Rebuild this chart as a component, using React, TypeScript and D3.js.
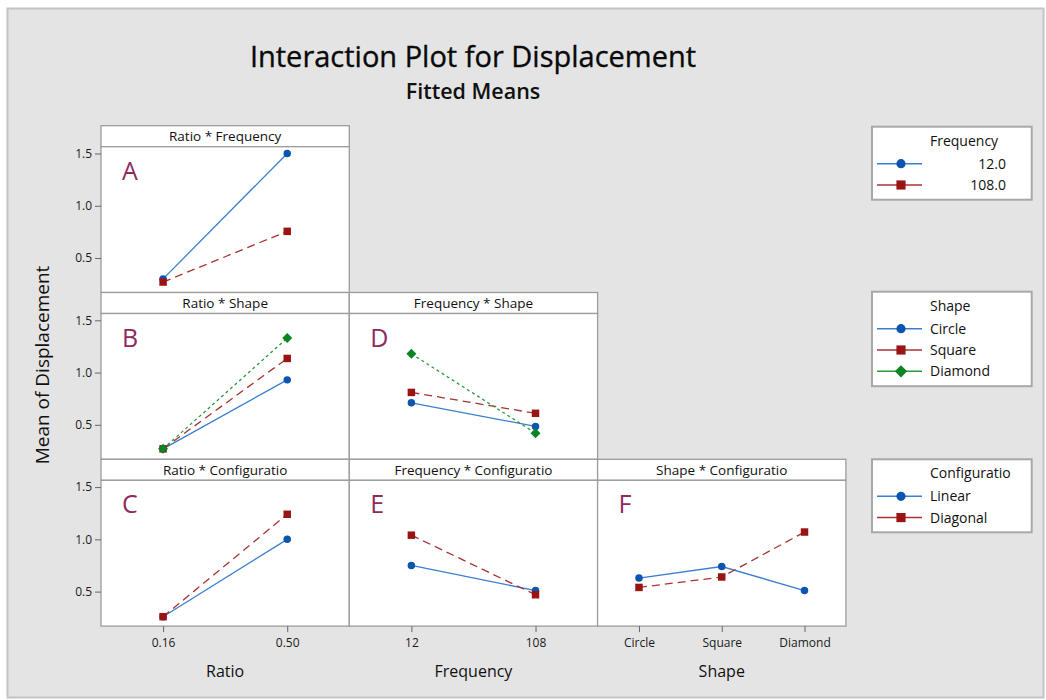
import React, { useEffect, useRef } from "react";
import * as d3 from "d3";

// factor levels
const ratioLevels = ["0.16", "0.50"];
const frequencyLevels = ["12", "108"];
const shapeLevels = ["Circle", "Square", "Diamond"];
const frequencyLegend = ["12.0", "108.0"];
const configLevels = ["Linear", "Diagonal"];
const yTicks = [0.5, 1.0, 1.5];

// fitted means
const ratioFreq12 = [0.3, 1.5];
const ratioFreq108 = [0.27, 0.755];
const ratioShapeCircle = [0.27, 0.93];
const ratioShapeSquare = [0.27, 1.135];
const ratioShapeDiamond = [0.27, 1.33];
const ratioConfigLinear = [0.26, 1.0];
const ratioConfigDiagonal = [0.26, 1.24];
const freqShapeCircle = [0.71, 0.485];
const freqShapeSquare = [0.81, 0.61];
const freqShapeDiamond = [1.18, 0.42];
const freqConfigLinear = [0.75, 0.51];
const freqConfigDiagonal = [1.04, 0.47];
const shapeConfigLinear = [0.63, 0.74, 0.51];
const shapeConfigDiagonal = [0.54, 0.64, 1.07];

const panels = [
  { row: 0, col: 0, title: "Ratio * Frequency", letter: "A", levels: ratioLevels, series: [ratioFreq12, ratioFreq108] },
  { row: 1, col: 0, title: "Ratio * Shape", letter: "B", levels: ratioLevels, series: [ratioShapeCircle, ratioShapeSquare, ratioShapeDiamond] },
  { row: 1, col: 1, title: "Frequency * Shape", letter: "D", levels: frequencyLevels, series: [freqShapeCircle, freqShapeSquare, freqShapeDiamond] },
  { row: 2, col: 0, title: "Ratio * Configuratio", letter: "C", levels: ratioLevels, series: [ratioConfigLinear, ratioConfigDiagonal] },
  { row: 2, col: 1, title: "Frequency * Configuratio", letter: "E", levels: frequencyLevels, series: [freqConfigLinear, freqConfigDiagonal] },
  { row: 2, col: 2, title: "Shape * Configuratio", letter: "F", levels: shapeLevels, series: [shapeConfigLinear, shapeConfigDiagonal] },
];

const legends = [
  { title: "Frequency", items: frequencyLegend, right: true },
  { title: "Shape", items: shapeLevels, right: false },
  { title: "Configuratio", items: configLevels, right: false },
];

const axisTitles = ["Ratio", "Frequency", "Shape"];
const axisLevels = [ratioLevels, frequencyLevels, shapeLevels];

// diamond = square turned by 45 degrees
const styles = [
  { line: "#3b7ecf", fill: "#0a55b0", dash: null, symbol: d3.symbolCircle, size: 44, rot: 0 },
  { line: "#a83232", fill: "#9a1414", dash: "8,5", symbol: d3.symbolSquare, size: 56, rot: 0 },
  { line: "#2a9a3a", fill: "#0a8424", dash: "3,3", symbol: d3.symbolSquare, size: 50, rot: 45 },
];

const FONT = "'Open Sans', 'DejaVu Sans', sans-serif";

const App = () => {
  const ref = useRef<SVGSVGElement>(null);

  useEffect(() => {
    const svg = d3.select(ref.current);
    svg.selectAll("*").remove();

    const width = 1046;
    const height = 700;
    const left = 101;
    const colW = 248.3;
    const top = 125.7;
    const rowH = 166.8;
    const headH = 21;

    svg.append("rect").attr("width", width).attr("height", height).attr("fill", "#ffffff");
    svg
      .append("rect")
      .attr("x", 7.5)
      .attr("y", 8.5)
      .attr("width", width - 10)
      .attr("height", height - 11)
      .attr("fill", "#e4e4e4")
      .attr("stroke", "#c4c4c4")
      .attr("stroke-width", 2);

    svg
      .append("text")
      .attr("x", 473)
      .attr("y", 67)
      .attr("text-anchor", "middle")
      .attr("font-family", FONT)
      .attr("font-size", 29)
      .attr("fill", "#0a0a0a")
      .attr("stroke", "#0a0a0a")
      .attr("stroke-width", 0.35)
      .text("Interaction Plot for Displacement");

    svg
      .append("text")
      .attr("x", 473)
      .attr("y", 99)
      .attr("text-anchor", "middle")
      .attr("font-family", FONT)
      .attr("font-size", 21.5)
      .attr("font-weight", 600)
      .attr("fill", "#111")
      .text("Fitted Means");

    const y = d3.scaleLinear().domain([0.17, 1.565]).range([rowH - headH, 0]);

    panels.forEach((p) => {
      const x0 = left + p.col * colW;
      const y0 = top + p.row * rowH;
      const g = svg.append("g").attr("transform", `translate(${x0},${y0})`);

      g.append("rect")
        .attr("width", colW)
        .attr("height", headH)
        .attr("fill", "#fff")
        .attr("stroke", "#9c9c9c")
        .attr("stroke-width", 1.3);
      g.append("text")
        .attr("x", colW / 2)
        .attr("y", headH / 2 + 5)
        .attr("text-anchor", "middle")
        .attr("font-family", FONT)
        .attr("font-size", 13.5)
        .attr("fill", "#111")
        .text(p.title);

      const plot = g.append("g").attr("transform", `translate(0,${headH})`);
      plot
        .append("rect")
        .attr("width", colW)
        .attr("height", rowH - headH)
        .attr("fill", "#fff")
        .attr("stroke", "#9c9c9c")
        .attr("stroke-width", 1.3);

      plot
        .append("text")
        .attr("x", 21)
        .attr("y", 33)
        .attr("font-family", FONT)
        .attr("font-size", 25)
        .attr("fill", "#8e2a5e")
        .text(p.letter);

      const x = d3.scalePoint<string>().domain(p.levels).range([0, colW]).padding(0.5);

      p.series.forEach((vals, si) => {
        const st = styles[si];
        const pts = vals.map((v, i) => [x(p.levels[i]) as number, y(v)] as [number, number]);
        plot
          .append("path")
          .attr("d", d3.line()(pts))
          .attr("fill", "none")
          .attr("stroke", st.line)
          .attr("stroke-width", 1.3)
          .attr("stroke-dasharray", st.dash);
        plot
          .selectAll(null)
          .data(pts)
          .join("path")
          .attr("transform", (d) => `translate(${d[0]},${d[1]}) rotate(${st.rot})`)
          .attr("d", d3.symbol().type(st.symbol).size(st.size)())
          .attr("fill", st.fill);
      });

      // y axis on the first column
      if (p.col === 0) {
        const ax = plot.append("g").call(d3.axisLeft(y).tickValues(yTicks).tickFormat(d3.format(".1f")).tickSize(6));
        ax.select(".domain").remove();
        ax.selectAll("line").attr("stroke", "#666");
        ax.selectAll("text").attr("font-family", FONT).attr("font-size", 12).attr("fill", "#1a1a1a");
      }
    });

    // x axes along the bottom row
    const bottom = top + 3 * rowH;
    axisLevels.forEach((lv, c) => {
      const x = d3.scalePoint<string>().domain(lv).range([0, colW]).padding(0.5);
      const g = svg.append("g").attr("transform", `translate(${left + c * colW},${bottom})`);
      const ax = g.call(d3.axisBottom(x).tickSize(6).tickPadding(6));
      ax.select(".domain").remove();
      ax.selectAll("line").attr("stroke", "#666");
      ax.selectAll("text").attr("font-family", FONT).attr("font-size", 12).attr("fill", "#1a1a1a");
      g.append("text")
        .attr("x", colW / 2)
        .attr("y", 51)
        .attr("text-anchor", "middle")
        .attr("font-family", FONT)
        .attr("font-size", 16)
        .attr("fill", "#111")
        .text(axisTitles[c]);
    });

    svg
      .append("text")
      .attr("transform", `translate(49,365) rotate(-90)`)
      .attr("text-anchor", "middle")
      .attr("font-family", FONT)
      .attr("font-size", 19)
      .attr("fill", "#111")
      .text("Mean of Displacement");

    // legends
    const legTops = [126.7, 291.7, 459.3];
    legends.forEach((l, li) => {
      const n = l.items.length;
      const g = svg.append("g").attr("transform", `translate(872,${legTops[li]})`);
      g.append("rect")
        .attr("width", 159.7)
        .attr("height", 30 + n * 21.5)
        .attr("fill", "#fff")
        .attr("stroke", "#a8a8a8")
        .attr("stroke-width", 2);
      g.append("text")
        .attr("x", 58)
        .attr("y", 19)
        .attr("font-family", FONT)
        .attr("font-size", 14)
        .attr("fill", "#111")
        .text(l.title);
      l.items.forEach((item, i) => {
        const st = styles[i];
        const cy = 37 + i * 21.3;
        g.append("line")
          .attr("x1", 5)
          .attr("x2", 50)
          .attr("y1", cy)
          .attr("y2", cy)
          .attr("stroke", st.line)
          .attr("stroke-width", 1.5);
        g.append("path")
          .attr("transform", `translate(29,${cy}) rotate(${st.rot})`)
          .attr("d", d3.symbol().type(st.symbol).size(st.size * 1.5)())
          .attr("fill", st.fill);
        g.append("text")
          .attr("x", l.right ? 134 : 58)
          .attr("y", cy + 5)
          .attr("text-anchor", l.right ? "end" : "start")
          .attr("font-family", FONT)
          .attr("font-size", 14)
          .attr("fill", "#111")
          .text(item);
      });
    });
  }, []);

  return (
    <div style={{ position: "absolute", left: 0, top: 0 }}>
      <svg ref={ref} width={1046} height={700} style={{ display: "block" }} />
    </div>
  );
};

export default App;
